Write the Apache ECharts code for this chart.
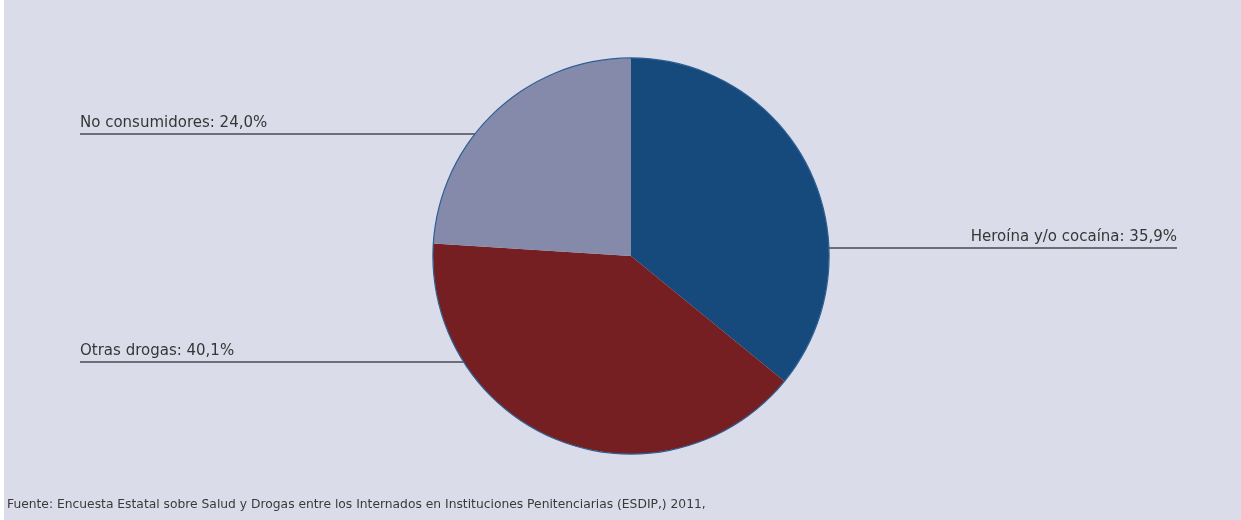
<!DOCTYPE html>
<html>
<head>
<meta charset="utf-8">
<script src="https://cdn.jsdelivr.net/npm/echarts@6/dist/echarts.min.js"></script>
<style>
  html, body { margin: 0; padding: 0; background: #ffffff; }
  #chart { position: absolute; left: 4px; top: 0; width: 1237px; height: 520px; }
</style>
</head>
<body>
<div id="chart"></div>
<script>
// Consumo de drogas entre internos: reparto por tipo de sustancia
const categories = ['Heroína y/o cocaína', 'Otras drogas', 'No consumidores'];
const shares = [35.9, 40.1, 24.0];
const sliceColors = ['#164a7c', '#761f23', '#858aab'];
const sourceNote = 'Fuente: Encuesta Estatal sobre Salud y Drogas entre los Internados en Instituciones Penitenciarias (ESDIP,) 2011,';

// Geometry of the pie inside the chart box (pixels)
const CX = 627, CY = 256, R = 198;
// Leader lines: height of each horizontal rule and where it ends
const leaders = [
  { y: 248, side: 'right', end: 1173 },
  { y: 362, side: 'left', end: 76 },
  { y: 134, side: 'left', end: 76 }
];

const fmt = v => v.toFixed(1).replace('.', ',') + '%';

const chart = echarts.init(document.getElementById('chart'), null, { renderer: 'canvas' });

chart.setOption({
  animation: false,
  backgroundColor: '#dbdce9',
  textStyle: { fontFamily: 'DejaVu Sans' },
  title: {
    text: sourceNote,
    left: 3,
    top: 499,
    padding: 0,
    textStyle: { fontSize: 12.3, fontWeight: 'normal', color: '#3a3a3a', fontFamily: 'DejaVu Sans' }
  },
  series: [
    {
      type: 'pie',
      center: [CX, CY],
      radius: R,
      startAngle: 90,
      clockwise: true,
      avoidLabelOverlap: false,
      itemStyle: { borderWidth: 0 },
      emphasis: { disabled: true },
      label: {
        show: true,
        formatter: p => p.name + ': ' + fmt(p.value),
        fontSize: 15,
        color: '#363636',
        fontFamily: 'DejaVu Sans'
      },
      labelLine: {
        show: true,
        smooth: false,
        lineStyle: { color: '#4a4a52', width: 1.5 }
      },
      labelLayout: params => {
        const L = leaders[params.dataIndex];
        const dy = L.y - CY;
        const half = Math.sqrt(R * R - dy * dy);
        const edgeX = L.side === 'right' ? CX + half : CX - half;
        return {
          x: L.end,
          y: L.y - 3,
          align: L.side === 'right' ? 'right' : 'left',
          verticalAlign: 'bottom',
          labelLinePoints: [[edgeX, L.y], [(edgeX + L.end) / 2, L.y], [L.end, L.y]]
        };
      },
      data: categories.map((name, i) => ({
        name,
        value: shares[i],
        itemStyle: { color: sliceColors[i] }
      }))
    },
    {
      // thin outline around the whole pie
      type: 'pie',
      center: [CX, CY],
      radius: [R - 0.5, R + 0.7],
      silent: true,
      label: { show: false },
      labelLine: { show: false },
      itemStyle: { color: '#2c5f93' },
      data: [{ value: 1, name: '' }]
    }
  ]
});
</script>
</body>
</html>
